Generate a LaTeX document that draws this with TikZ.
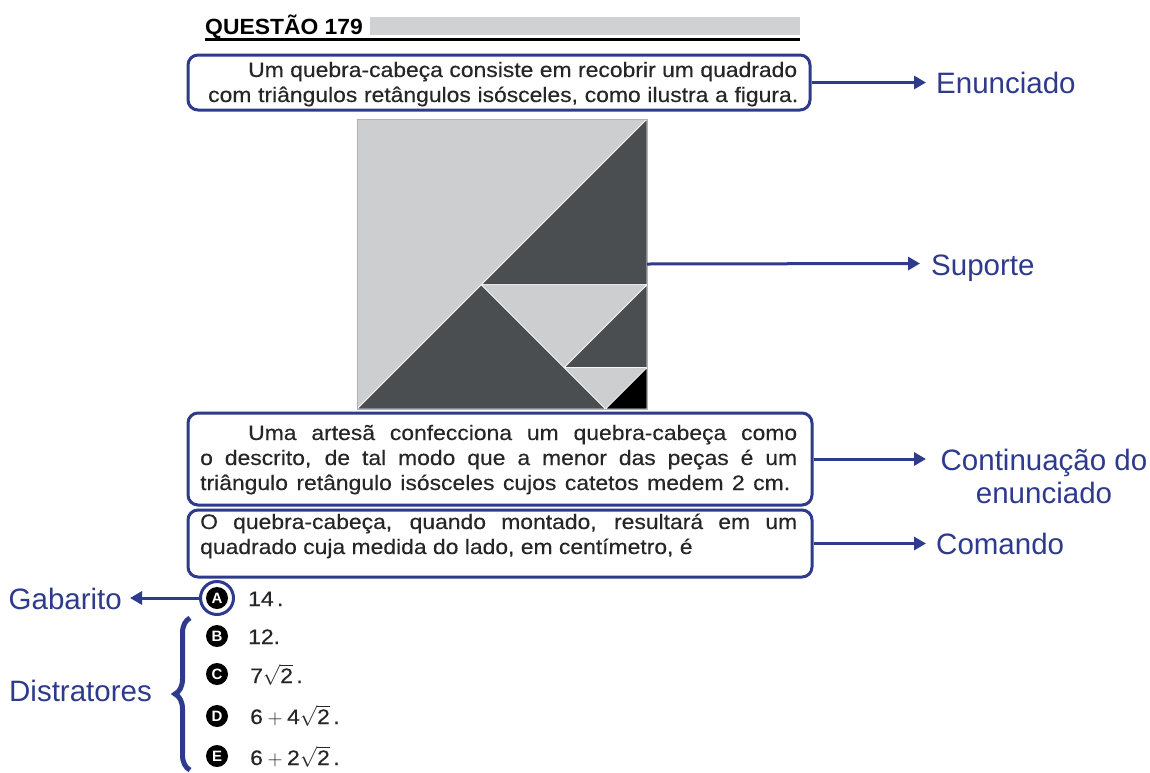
\documentclass[tikz,border=0pt]{standalone}
\usepackage{fontspec}
\setmainfont{Liberation Sans}
\newfontfamily\bodyfont[FakeStretch=1.09,FakeBold=0.3]{Liberation Sans}
\newfontfamily\hdfont[FakeStretch=1.04]{Liberation Sans}
\newfontfamily\labfont{Liberation Sans}
\usetikzlibrary{arrows.meta,decorations.pathreplacing}
\definecolor{navy}{HTML}{2E3A8C}
\definecolor{pzlight}{HTML}{CDCED0}
\definecolor{pzdark}{HTML}{4B4E51}
\definecolor{hdgray}{HTML}{D0D1D3}
\newcommand{\myroot}[1]{\smash{$\sqrt{\mbox{#1}}$}}
\tikzset{
  qbox/.style={draw=navy, line width=3pt, rounded corners=10pt, inner sep=0pt},
  bodytxt/.style={inner sep=0pt, anchor=base west, text=black!85, font=\bodyfont\fontsize{21}{25}\selectfont},
  labtxt/.style={inner sep=0pt, anchor=base west, text=navy, font=\labfont\fontsize{29.5}{33}\selectfont},
  arr/.style={draw=navy, line width=3pt, -{Triangle[length=12pt,width=13pt]}},
  optmark/.style={circle, fill=black, text=white, inner sep=0pt, minimum size=22pt, font=\bfseries\fontsize{15}{15}\selectfont},
  piece/.style={draw=white!80!pzlight, line width=0.8pt, line join=round}
}
\begin{document}
\begin{tikzpicture}[x=1pt,y=-1pt]
\useasboundingbox (0,0) rectangle (1150,772);
\fill[white] (0,0) rectangle (1150,772);
% header
\fill[hdgray] (370,17) rectangle (800,35);
\node[inner sep=0pt, anchor=base west, font=\hdfont\bfseries\fontsize{22}{25}\selectfont] (hdr) at (205,34) {QUESTÃO 179};
\draw[line width=2.8pt] (205,39.5) -- (800,39.5);
% box 1
\node[qbox, minimum width=622pt, minimum height=55pt] (b1) at (499,82.5) {};
\node[bodytxt] (b1l1) at (248,77) {\makebox[549pt][s]{Um quebra-cabeça consiste em recobrir um quadrado}};
\node[bodytxt] (b1l2) at (208,102) {\makebox[590pt][s]{com triângulos retângulos isósceles, como ilustra a figura.}};
% puzzle
\begin{scope}[shift={(357,119)}, x=20.714pt, y=-20.714pt]
  \fill[pzlight] (0,0) rectangle (14,14);
  \filldraw[piece, fill=pzlight] (0,0) -- (14,0) -- (0,14) -- cycle;
  \filldraw[piece, fill=pzdark] (14,0) -- (14,8) -- (6,8) -- cycle;
  \filldraw[piece, fill=pzdark] (6,8) -- (12,14) -- (0,14) -- cycle;
  \filldraw[piece, fill=pzlight] (6,8) -- (14,8) -- (10,12) -- cycle;
  \filldraw[piece, fill=pzdark] (14,8) -- (14,12) -- (10,12) -- cycle;
  \filldraw[piece, fill=pzlight] (10,12) -- (14,12) -- (12,14) -- cycle;
  \filldraw[piece, fill=black] (14,12) -- (14,14) -- (12,14) -- cycle;
  \draw[draw=gray!60, line width=0.6pt] (0,0) rectangle (14,14);
  \coordinate (sqE) at (14,7);
\end{scope}
% box 2
\node[qbox, minimum width=624pt, minimum height=92pt] (b2) at (500,459) {};
\node[bodytxt] (b2l1) at (248,440) {\makebox[549pt][s]{Uma artesã confecciona um quebra-cabeça como}};
\node[bodytxt] (b2l2) at (200,465) {\makebox[597pt][s]{o descrito, de tal modo que a menor das peças é um}};
\node[bodytxt] (b2l3) at (200,490) {\makebox[590pt][s]{triângulo retângulo isósceles cujos catetos medem 2 cm.}};
% box 3
\node[qbox, minimum width=624pt, minimum height=67pt] (b3) at (500,543.5) {};
\node[bodytxt] (b3l1) at (200,529) {\makebox[597pt][s]{O quebra-cabeça, quando montado, resultará em um}};
\node[bodytxt] (b3l2) at (200,554) {quadrado cuja medida do lado, em centímetro, é};
% options
\node[optmark] (oA) at (217,598) {A};
\node[optmark] (oB) at (217,636) {B};
\node[optmark] (oC) at (217,674) {C};
\node[optmark] (oD) at (217,716) {D};
\node[optmark] (oE) at (217,756) {E};
\node[bodytxt] (vA) at (248,606) {14\,.};
\node[bodytxt] (vB) at (248,644) {12.};
\node[bodytxt] (vC) at (250,683) {7\myroot{2}\,.};
\node[bodytxt] (vD) at (250,724) {6${}+{}$4\myroot{2}\,.};
\node[bodytxt] (vE) at (250,765) {6${}+{}$2\myroot{2}\,.};
\node[circle, draw=navy, line width=3pt, minimum size=33pt, inner sep=0pt] (ring) at (217,598) {};
% labels
\node[labtxt] (lEn) at (936,93.5) {Enunciado};
\node[labtxt] (lSu) at (931,275) {Suporte};
\node[inner sep=0pt, text=navy, align=center, font=\labfont\fontsize{29.5}{33}\selectfont] (lCo) at (1044,476) {Continuação do\\enunciado};
\node[labtxt] (lCm) at (936,554) {Comando};
\node[labtxt, anchor=base east] (lGa) at (122,609) {Gabarito};
\node[labtxt, anchor=base east] (lDi) at (152,701) {Distratores};
% arrow tips
\coordinate (tEn) at (926,82.5);
\coordinate (tSu) at (920,263.5);
\coordinate (tCo) at (926,459);
\coordinate (tCm) at (926,543.5);
\coordinate (tGa) at (130,598);
\draw[arr] (b1.east) -- (tEn);
\draw[arr] (sqE) -- (tSu);
\draw[arr] (b2.east) -- (tCo);
\draw[arr] (b3.east) -- (tCm);
\draw[arr] (ring.west) -- (tGa);
% brace
\coordinate (brB) at (190,770);
\coordinate (brT) at (190,618);
\draw[navy, line width=5pt, decorate, decoration={brace, amplitude=15pt}] (brB) -- (brT);
\end{tikzpicture}
\end{document}
